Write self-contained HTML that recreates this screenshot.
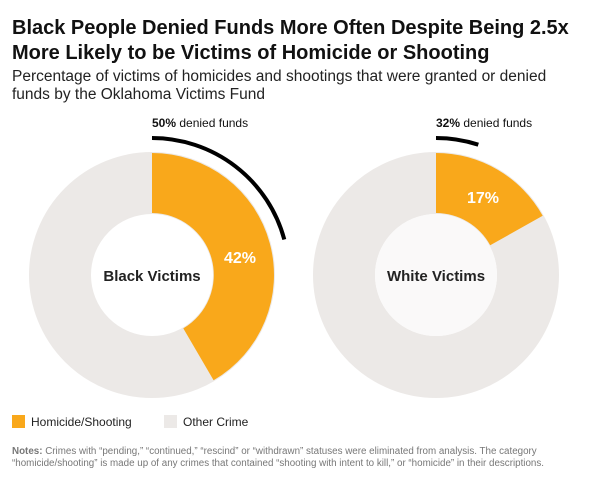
<!DOCTYPE html>
<html><head><meta charset="utf-8"><style>
body{margin:0;background:#fff;width:605px;height:484px;overflow:hidden;font-family:"Liberation Sans",sans-serif;}
</style></head><body>
<svg width="605" height="484" xmlns="http://www.w3.org/2000/svg" font-family="Liberation Sans, sans-serif">
<text x="12" y="34" font-size="20" font-weight="bold" fill="#111">Black People Denied Funds More Often Despite Being 2.5x</text>
<text x="12" y="59" font-size="20" font-weight="bold" fill="#111">More Likely to be Victims of Homicide or Shooting</text>
<text x="12" y="81" font-size="15.5" fill="#222">Percentage of victims of homicides and shootings that were granted or denied</text>
<text x="12" y="99" font-size="15.5" fill="#222">funds by the Oklahoma Victims Fund</text>

<circle cx="152" cy="275" r="92" fill="none" stroke="#ece9e7" stroke-width="62"/>
<path d="M152 153 A122 122 0 0 1 213.6 380.3 L183.3 328.4 A62 62 0 0 0 152 213 Z" fill="#f9a81b"/>
<path d="M152 138 A137 137 0 0 1 284.3 239.5" fill="none" stroke="#000" stroke-width="4"/>
<text x="152" y="127" font-size="12" fill="#111"><tspan font-weight="bold">50%</tspan> denied funds</text>
<text x="240" y="263" font-size="16" font-weight="bold" fill="#fff" text-anchor="middle">42%</text>
<text x="152" y="281" font-size="15" font-weight="bold" fill="#222" text-anchor="middle">Black Victims</text>

<circle cx="436" cy="275" r="92" fill="none" stroke="#ece9e7" stroke-width="62"/>
<circle cx="436" cy="275" r="61" fill="#faf9f9"/>
<path d="M436 153 A122 122 0 0 1 542.7 215.8 L490.2 245.3 A62 62 0 0 0 436 213 Z" fill="#f9a81b"/>
<path d="M436 138 A137 137 0 0 1 478.3 144.7" fill="none" stroke="#000" stroke-width="4"/>
<text x="436" y="127" font-size="12" fill="#111"><tspan font-weight="bold">32%</tspan> denied funds</text>
<text x="483" y="203" font-size="16" font-weight="bold" fill="#fff" text-anchor="middle">17%</text>
<text x="436" y="281" font-size="15" font-weight="bold" fill="#222" text-anchor="middle">White Victims</text>

<rect x="12" y="415" width="13" height="13" fill="#f9a81b"/>
<text x="31" y="426" font-size="12" fill="#222">Homicide/Shooting</text>
<rect x="164" y="415" width="13" height="13" fill="#ece9e7"/>
<text x="183" y="426" font-size="12" fill="#222">Other Crime</text>

<text x="12" y="454" font-size="9.8" fill="#777"><tspan font-weight="bold">Notes:</tspan> Crimes with “pending,” “continued,” “rescind” or “withdrawn” statuses were eliminated from analysis. The category</text>
<text x="12" y="466" font-size="9.8" fill="#777">“homicide/shooting” is made up of any crimes that contained “shooting with intent to kill,” or “homicide” in their descriptions.</text>
</svg>
</body></html>
